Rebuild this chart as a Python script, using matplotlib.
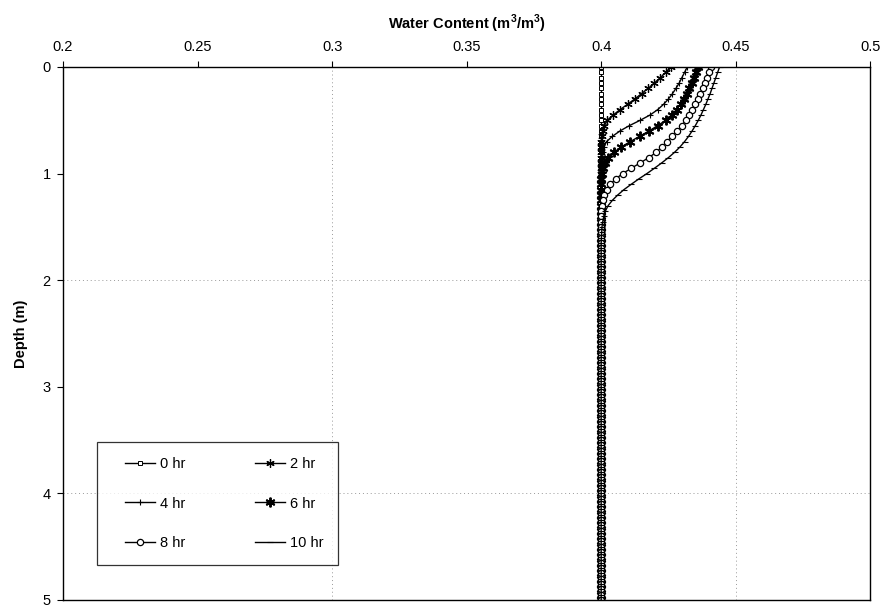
import numpy as np
import matplotlib
matplotlib.use('Agg')
import matplotlib.pyplot as plt
from matplotlib.legend_handler import HandlerLine2D

plt.rcParams['font.family'] = ['Liberation Sans', 'DejaVu Sans']

# Water content profiles, every 0.05 m from the surface
# down to where each curve reaches the initial water content.
depth_step = 0.05
max_depth = 5.0
initial_wc = 0.4

wc_0hr = [0.400]
wc_2hr = [0.4260, 0.4240, 0.4220, 0.4198, 0.4175, 0.4150, 0.4125, 0.4098,
          0.4070, 0.4045, 0.4023, 0.4012, 0.4006, 0.4003, 0.4001, 0.4000]
wc_4hr = [0.4320, 0.4310, 0.4300, 0.4290, 0.4278, 0.4265, 0.4250, 0.4232,
          0.4210, 0.4182, 0.4145, 0.4105, 0.4070, 0.4042, 0.4020, 0.4010,
          0.4005, 0.4002, 0.4001, 0.4000]
wc_6hr = [0.4360, 0.4352, 0.4344, 0.4336, 0.4327, 0.4318, 0.4307, 0.4295,
          0.4280, 0.4262, 0.4240, 0.4210, 0.4178, 0.4143, 0.4108, 0.4075,
          0.4048, 0.4027, 0.4013, 0.4006, 0.4003, 0.4001, 0.4000]
wc_8hr = [0.4410, 0.4402, 0.4394, 0.4386, 0.4378, 0.4369, 0.4360, 0.4350,
          0.4339, 0.4327, 0.4314, 0.4300, 0.4283, 0.4263, 0.4245, 0.4225,
          0.4205, 0.4177, 0.4145, 0.4112, 0.4080, 0.4054, 0.4034, 0.4020,
          0.4010, 0.4005, 0.4002, 0.4001, 0.4000]
wc_10hr = [0.4440, 0.4433, 0.4426, 0.4419, 0.4412, 0.4405, 0.4397, 0.4389,
           0.4380, 0.4371, 0.4361, 0.4350, 0.4338, 0.4325, 0.4310, 0.4293,
           0.4273, 0.4250, 0.4225, 0.4198, 0.4170, 0.4140, 0.4112, 0.4085,
           0.4062, 0.4042, 0.4026, 0.4016, 0.4010, 0.4006, 0.4003, 0.4002,
           0.4001, 0.4000]

labels = ['0 hr', '2 hr', '4 hr', '6 hr', '8 hr', '10 hr']
profiles = [wc_0hr, wc_2hr, wc_4hr, wc_6hr, wc_8hr, wc_10hr]

x_ticks = [0.2, 0.25, 0.3, 0.35, 0.4, 0.45, 0.5]
x_tick_labels = ['0.2', '0.25', '0.3', '0.35', '0.4', '0.45', '0.5']
y_ticks = [0, 1, 2, 3, 4, 5]

n_points = int(round(max_depth / depth_step)) + 1
depth = np.arange(n_points) * depth_step

def full_profile(vals):
    # below the wetting front the soil stays at the initial water content
    return list(vals) + [initial_wc] * (n_points - len(vals))

styles = {
    '0 hr': dict(marker='s', ms=3.5, mfc='white', mew=0.7),
    '2 hr': dict(marker=(6, 2, 0), ms=6, mew=0.9),
    '4 hr': dict(marker='+', ms=5, mew=0.8),
    '6 hr': dict(marker=(6, 2, 0), ms=7, mew=1.4),
    '8 hr': dict(marker='o', ms=4.5, mfc='white', mew=0.9),
    '10 hr': dict(marker='_', ms=4, mew=0.8),
}

fig = plt.figure(figsize=(8.88, 6.09), dpi=100)
ax = fig.add_axes([0.071, 0.015, 0.909, 0.875])

lines = {}
for lab, prof in zip(labels, profiles):
    ln, = ax.plot(full_profile(prof), depth, color='black', lw=1.0,
                  label=lab, **styles[lab])
    lines[lab] = ln

# faint dotted gridlines visible in the scan
for xv in [0.3, 0.45]:
    ax.axvline(xv, color='#999999', lw=0.7, ls=(0, (1, 3)), zorder=0)
for yv in [2, 4]:
    ax.axhline(yv, color='#999999', lw=0.7, ls=(0, (1, 3)), zorder=0)

ax.set_xlim(0.2, 0.5)
ax.set_ylim(5, 0)
ax.xaxis.tick_top()
ax.xaxis.set_label_position('top')
ax.set_xticks(x_ticks)
ax.set_xticklabels(x_tick_labels)
ax.set_yticks(y_ticks)
ax.tick_params(axis='both', direction='out', length=4, width=0.8,
               labelsize=10.5, pad=5)
ax.set_xlabel('Water Content (m$^\\mathregular{3}$/m$^\\mathregular{3}$)',
              fontsize=10.5, fontweight='bold', labelpad=8)
ax.set_ylabel('Depth (m)', fontsize=10.5, fontweight='bold', labelpad=10)
for sp in ax.spines.values():
    sp.set_linewidth(1.0)

order = ['0 hr', '4 hr', '8 hr', '2 hr', '6 hr', '10 hr']
leg = ax.legend([lines[k] for k in order], order, ncol=2,
                loc='lower left', bbox_to_anchor=(0.042, 0.066, 0.299, 0.234),
                mode='expand', borderaxespad=0, frameon=True, fancybox=False,
                fontsize=10.5, handlelength=2.95, handletextpad=0.35,
                labelspacing=1.75, borderpad=1.0, columnspacing=1.5,
                handler_map={ln: HandlerLine2D(xpad=0.9) for ln in lines.values()})
leg.get_frame().set_edgecolor('black')
leg.get_frame().set_linewidth(0.9)

fig.savefig('out.png', dpi=100)
